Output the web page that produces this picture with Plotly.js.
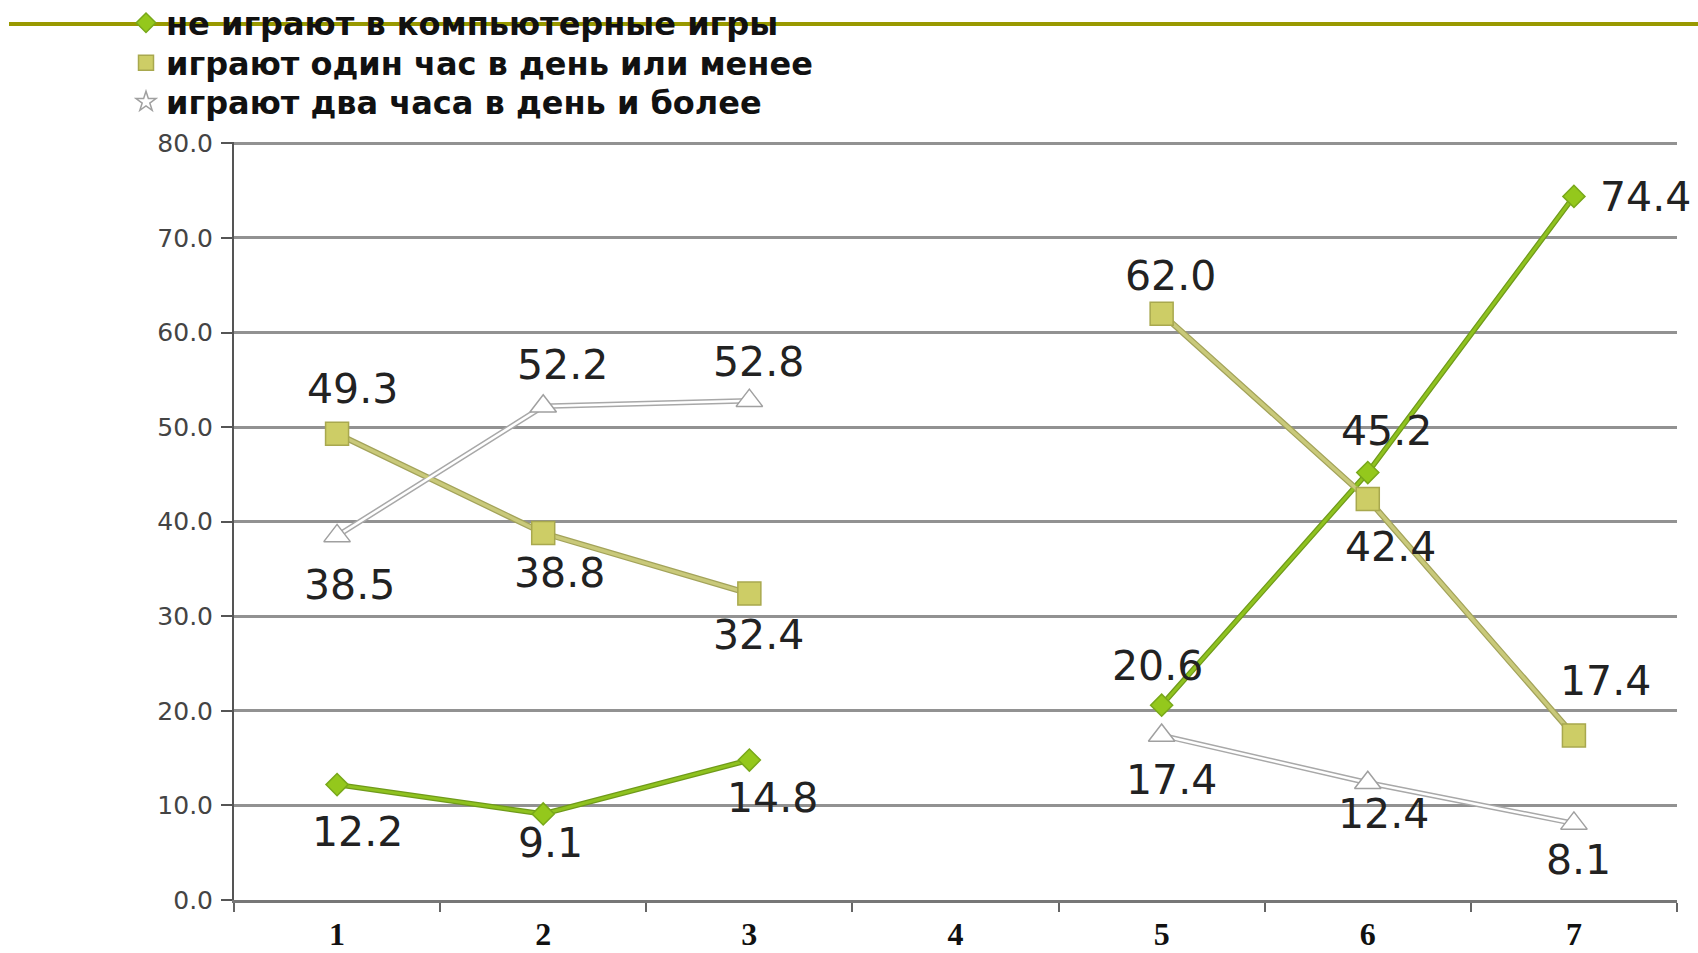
<!DOCTYPE html>
<html>
<head>
<meta charset="utf-8">
<script src="https://cdn.plot.ly/plotly-3.0.1.min.js"></script>
<style>
html,body{margin:0;padding:0;background:#fff;}
#chart{width:1698px;height:953px;}
</style>
</head>
<body>
<div id="chart"></div>
<script>
// ---- data ----
const categories = ['1', '2', '3', '4', '5', '6', '7'];
const seriesNames = [
  'не играют в компьютерные игры',
  'играют один час в день или менее',
  'играют два часа в день и более'
];
const noGames  = [12.2, 9.1, 14.8, null, 20.6, 45.2, 74.4];
const oneHour  = [49.3, 38.8, 32.4, null, 62.0, 42.4, 17.4];
const twoHours = [38.5, 52.2, 52.8, null, 17.4, 12.4, 8.1];

// ---- label placement (screen px offsets: dx right, dy down) ----
const offNoGames  = [[20, 47], [7, 29], [23, 38], null, [-4, -39], [19, -42], [72, 1]];
const offOneHour  = [[15, -45], [16, 40], [9, 41], null, [9, -38], [23, 48], [32, -54]];
const offTwoHours = [[12, 49], [19, -41], [9, -39], null, [10, 45], [16, 31], [5, 37]];

const seriesValues = [noGames, oneHour, twoHours];
const seriesOffsets = [offNoGames, offOneHour, offTwoHours];

const styles = [
  {edge: '#6f9a1a', line: '#8fc21f', edgeW: 5.5, lineW: 3, symbol: 'diamond', size: 17,
   fill: '#94c81c', mline: '#78a81a', legSymbol: 'diamond'},
  {edge: '#a3a35a', line: '#c9c97a', edgeW: 6, lineW: 3.5, symbol: 'square', size: 23,
   fill: '#cdcd66', mline: '#a8a84e', legSymbol: 'square'},
  {edge: '#a8a8a8', line: '#ffffff', edgeW: 5.5, lineW: 2.5, symbol: 'triangle-up', size: 23,
   fill: '#ffffff', mline: '#a0a0a0', legSymbol: 'star'}
];
const legendIds = ['legend', 'legend2', 'legend3'];
const legendRowPx = [23, 63, 102];

const traces = [];
// edge (outline) lines
seriesValues.forEach((vals, i) => {
  traces.push({
    x: categories, y: vals, type: 'scatter', mode: 'lines',
    line: {color: styles[i].edge, width: styles[i].edgeW},
    showlegend: false, hoverinfo: 'skip'
  });
});
// main lines with markers
seriesValues.forEach((vals, i) => {
  traces.push({
    x: categories, y: vals, type: 'scatter', mode: 'lines+markers',
    name: seriesNames[i],
    line: {color: styles[i].line, width: styles[i].lineW},
    marker: {symbol: styles[i].symbol, size: styles[i].size, color: styles[i].fill,
             line: {color: styles[i].mline, width: 1.5}},
    showlegend: false
  });
});
// legend-only entries
seriesValues.forEach((vals, i) => {
  traces.push({
    x: [null], y: [null], type: 'scatter', mode: 'markers',
    name: seriesNames[i], legend: legendIds[i],
    marker: {symbol: styles[i].legSymbol, size: 15, color: styles[i].fill,
             line: {color: styles[i].mline, width: 1.5}},
    showlegend: true
  });
});

// data labels
const annotations = [];
seriesValues.forEach((vals, i) => {
  vals.forEach((v, j) => {
    if (v === null) return;
    const off = seriesOffsets[i][j];
    annotations.push({
      x: j, y: v, xref: 'x', yref: 'y',
      text: v.toFixed(1), showarrow: false,
      xshift: off[0], yshift: -off[1],
      font: {family: 'DejaVu Sans, Verdana, sans-serif', size: 41, color: '#222222'}
    });
  });
});

const yMax = 80.15;
const L = 234, R = 21, B = 53;
const W = 1698, H = 953;
const ph = Math.round(757 * yMax / 80);
const T = H - B - ph;
const pw = W - L - R;
const px2x = p => (p - L) / pw;
const py2y = p => (H - B - p) / ph;

const layout = {
  width: W, height: H,
  margin: {l: L, r: R, t: T, b: B, pad: 0, autoexpand: false},
  paper_bgcolor: '#ffffff', plot_bgcolor: '#ffffff',
  showlegend: true,
  xaxis: {
    type: 'category', categoryorder: 'array', categoryarray: categories,
    range: [-0.5, 6.5], fixedrange: true,
    showgrid: false, zeroline: false,
    showline: true, linecolor: '#777777', linewidth: 3,
    ticks: 'outside', tickson: 'boundaries', ticklen: 9, tickwidth: 2, tickcolor: '#666666',
    ticklabelstandoff: 4,
    tickfont: {family: 'Liberation Serif, serif', size: 32, color: '#111111', weight: 'bold'}
  },
  yaxis: {
    range: [0, yMax], tick0: 0, dtick: 10, tickformat: '.1f', fixedrange: true,
    showgrid: true, gridcolor: '#929292', gridwidth: 3,
    zeroline: false,
    showline: true, linecolor: '#555555', linewidth: 2,
    ticks: 'outside', ticklen: 11, tickwidth: 2, tickcolor: '#555555',
    ticklabelstandoff: 3,
    tickfont: {family: 'DejaVu Sans, Verdana, sans-serif', size: 25, color: '#444444'}
  },
  shapes: [{
    type: 'line', xref: 'paper', yref: 'paper',
    x0: px2x(9), x1: px2x(1698), y0: py2y(24), y1: py2y(24),
    line: {color: '#999900', width: 4}, layer: 'above'
  }],
  annotations: annotations
};
legendIds.forEach((id, i) => {
  layout[id] = {
    x: px2x(126), y: py2y(legendRowPx[i]), xanchor: 'left', yanchor: 'middle',
    bgcolor: 'rgba(0,0,0,0)', borderwidth: 0,
    font: {family: 'DejaVu Sans, Verdana, sans-serif', size: 32, color: '#111111', weight: 'bold'},
    itemclick: false
  };
});

Plotly.newPlot('chart', traces, layout, {staticPlot: true, displayModeBar: false});
</script>
</body>
</html>
